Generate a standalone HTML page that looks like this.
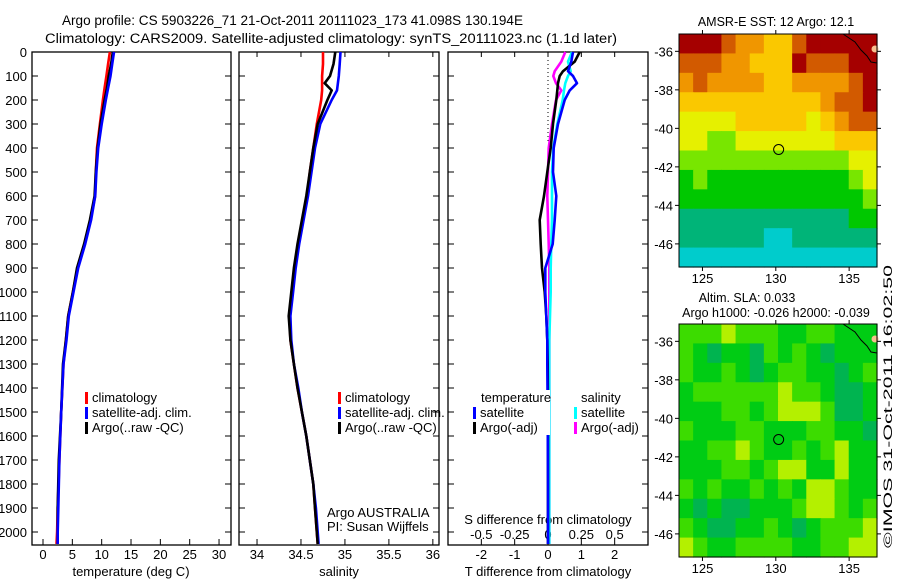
<!DOCTYPE html>
<html><head><meta charset="utf-8"><style>
html,body{margin:0;padding:0;background:#fff;}
svg{display:block;font-family:"Liberation Sans",Arial,sans-serif;}
</style></head><body>
<svg id="c" width="900" height="580" viewBox="0 0 900 580" xmlns="http://www.w3.org/2000/svg">
<text x="62" y="25" font-size="13.5" textLength="461" lengthAdjust="spacingAndGlyphs">Argo profile: CS 5903226_71 21-Oct-2011 20111023_173 41.098S 130.194E</text>
<text x="45" y="43" font-size="13.5" textLength="572" lengthAdjust="spacingAndGlyphs">Climatology: CARS2009. Satellite-adjusted climatology: synTS_20111023.nc (1.1d later)</text>
<g id="g"></g>
<text transform="translate(892,548) rotate(-90)" font-size="12" textLength="283" lengthAdjust="spacingAndGlyphs">©IMOS 31-Oct-2011 16:02:50</text>
</svg>
<script>
// ---- profile data (depth m) ----
const tDepth   = [0,50,100,150,200,300,400,500,600,700,800,900,1000,1100,1200,1300,1500,1700,1900,2000,2050];
const tClim    = [11.4,11.1,10.8,10.5,10.2,9.7,9.2,9.0,8.9,8.1,7.1,5.9,5.1,4.3,3.9,3.5,3.1,2.8,2.5,2.4,2.3];
const tSat     = [12.1,11.8,11.5,11.1,10.7,10.0,9.4,9.1,8.9,8.2,7.2,6.0,5.2,4.4,4.0,3.5,3.1,2.8,2.6,2.5,2.5];
const tArgo    = [11.9,11.6,11.2,10.9,10.5,9.8,9.3,9.0,8.8,8.0,7.0,5.8,5.1,4.3,3.9,3.4,3.1,2.7,2.5,2.5,2.5];
const sDepth   = [0,50,100,130,160,200,300,400,500,600,700,800,900,1000,1100,1200,1300,1400,1500,1600,1700,1800,1900,2000,2050];
const sClim    = [34.75,34.75,34.74,34.74,34.74,34.73,34.68,34.64,34.60,34.57,34.52,34.47,34.43,34.40,34.37,34.38,34.42,34.46,34.51,34.56,34.60,34.64,34.66,34.68,34.69];
const sSat     = [34.95,34.94,34.93,34.92,34.91,34.85,34.72,34.66,34.62,34.58,34.53,34.48,34.44,34.41,34.38,34.39,34.42,34.47,34.51,34.56,34.60,34.64,34.67,34.69,34.70];
const sArgo    = [34.89,34.87,34.83,34.77,34.85,34.80,34.69,34.64,34.60,34.56,34.51,34.46,34.42,34.39,34.36,34.38,34.42,34.46,34.51,34.56,34.60,34.64,34.66,34.68,34.69];
// ---- difference data ----
const dDepth   = [0,40,80,100,130,160,200,300,400,500,600,700,800,900,1000,1100,1200,1300,1500,1800,2050];
const dTsat    = [0.75,0.70,0.60,0.75,0.87,0.65,0.50,0.30,0.17,0.15,0.25,0.20,0.14,-0.08,-0.08,-0.05,-0.02,-0.02,-0.01,0,0];
const dTargo   = [0.95,0.80,0.45,0.35,0.30,0.28,0.25,0.15,0.08,-0.02,-0.12,-0.25,-0.22,-0.18,-0.10,-0.05,-0.02,-0.01,0,0,0];
const dSsat    = [0.18,0.15,0.17,0.15,0.13,0.12,0.11,0.07,0.04,0.03,0.03,0.03,0.025,0.02,0.02,0.015,0.01,0.01,0.01,0.01,0.01];
const dSargo   = [0.13,0.10,0.05,0.04,0.06,0.10,0.06,0.03,0.005,0,-0.005,0,0.005,0.01,0.01,0.01,0.01,0.01,0.01,0.01,0.01];
// ---- map data (rows lat -35..-47, cols lon 123.4..136.9) ----
const sstGrid = [
[9,9,9,8,7,7,6,6,8,9,9,9,9,9],
[8,8,8,7,7,6,6,6,9,8,8,8,9,9],
[7,8,7,7,7,7,6,6,7,7,7,7,8,9],
[6,6,6,6,6,6,6,6,6,6,7,8,8,9],
[5,5,5,5,6,6,6,6,6,5,6,7,8,8],
[5,5,4,4,5,5,5,5,5,5,5,6,6,6],
[4,4,4,4,4,4,4,4,4,4,4,4,5,5],
[3,4,3,3,3,3,3,3,3,3,3,3,4,5],
[3,3,3,3,3,3,3,3,3,3,3,3,3,4],
[2,2,2,2,2,2,2,2,2,2,2,2,3,3],
[2,2,2,2,2,2,1,1,2,2,2,2,2,2],
[1,1,1,1,1,1,1,1,1,1,1,1,1,1]];
const slaGrid = [
[3,3,3,4,3,3,3,2,2,3,3,2,2,2],
[3,2,1,2,2,1,3,2,3,2,1,2,2,2],
[3,2,2,3,2,1,2,3,3,2,2,1,2,3],
[2,3,3,3,3,3,3,4,3,3,2,1,1,2],
[2,2,2,3,3,2,3,4,4,4,3,1,1,2],
[3,2,2,2,3,3,2,2,2,3,3,2,2,1],
[2,2,3,3,4,3,2,2,3,2,3,4,2,2],
[2,2,2,3,3,2,3,4,4,2,2,4,2,2],
[3,2,3,2,2,3,2,3,2,4,4,3,2,2],
[2,1,2,1,1,2,2,2,3,4,4,3,2,3],
[3,2,1,1,2,2,3,2,1,2,3,3,3,4],
[4,3,2,2,3,3,3,3,2,2,3,3,4,4]];
const depthTicks = [0,100,200,300,400,500,600,700,800,900,1000,1100,1200,1300,1400,1500,1600,1700,1800,1900,2000];
const tTicks = [0,5,10,15,20,25,30];
const sTicks = [34,34.5,35,35.5,36];
const dTTicks = [-2,-1,0,1,2];
const dSTicks = [-0.5,-0.25,0,0.25,0.5];
const lonTicks = [125,130,135];
const latTicks = [-36,-38,-40,-42,-44,-46];
const argoLon = 130.194, argoLat = -41.098;

const NS='http://www.w3.org/2000/svg';
const G=document.getElementById('g');
function el(tag,attrs,parent,txt){const e=document.createElementNS(NS,tag);for(const k in attrs)e.setAttribute(k,attrs[k]);if(txt!==undefined)e.textContent=txt;(parent||G).appendChild(e);return e;}
const top0=52, bot=545;
const yD = d => top0 + d*(532-52)/2000;

function panel(name,x0,x1,xmin,xmax){
  const g=el('g',{});
  
  
  const fx=v=>x0+(v-xmin)/(xmax-xmin)*(x1-x0);
  return {g,fx,x0,x1};
}
function frame(p){
  const r=el('rect',{x:p.x0,y:top0,width:p.x1-p.x0,height:bot-top0,fill:'none',stroke:'#000','stroke-width':1.3},p.g);
  
  
  depthTicks.forEach(d=>{
    el('line',{x1:p.x0,x2:p.x0+6,y1:yD(d),y2:yD(d),stroke:'#000'},p.g);
    el('line',{x1:p.x1,x2:p.x1-6,y1:yD(d),y2:yD(d),stroke:'#000'},p.g);
  });
}
function xticks(p,ticks,fmt,ly,tops){
  ticks.forEach(v=>{
    const x=p.fx(v);
    el('line',{x1:x,x2:x,y1:bot,y2:bot-6,stroke:'#000'},p.g);
    if(tops) el('line',{x1:x,x2:x,y1:top0,y2:top0+5,stroke:'#000'},p.g);
    const t=el('text',{x:x,y:ly,'font-size':13,'text-anchor':'middle'},p.g,fmt(v));
    
    
  });
}
function line(p,depths,vals,color,name,fx){
  let d='';
  depths.forEach((z,i)=>{d+=(i?'L':'M')+(fx||p.fx)(vals[i]).toFixed(1)+','+yD(z).toFixed(1);});
  const e=el('path',{d:d,fill:'none',stroke:color,'stroke-width':2.6,'stroke-linejoin':'round'},p.g);
  
  
}
function legend(p,x,y,items){
  items.forEach((it,i)=>{
    el('rect',{x:x,y:y+i*15-10,width:3,height:12,fill:it[0]},p.g);
    const t=el('text',{x:x+7,y:y+i*15,'font-size':13},p.g,it[1]);
    
    
  });
}
// panel 1
const p1=panel('temperature-panel',32,231,-1.875,32.04);
frame(p1);
depthTicks.forEach(d=>{const t=el('text',{x:27,y:yD(d)+5,'font-size':13,'text-anchor':'end'},p1.g,String(d));
  
  });
xticks(p1,tTicks,String,559,false);
line(p1,tDepth,tClim,'#f00','temp-climatology-line');
line(p1,tDepth,tArgo,'#000','temp-argo-line');
line(p1,tDepth,tSat,'#00f','temp-satellite-line');
legend(p1,85,402,[['#f00','climatology'],['#00f','satellite-adj. clim.'],['#000','Argo(..raw -QC)']]);
el('text',{x:131,y:576,'font-size':13,'text-anchor':'middle'},p1.g,'temperature (deg C)');
// panel 2
const p2=panel('salinity-panel',239,439,33.795,36.07);
frame(p2);
xticks(p2,sTicks,String,559,true);
line(p2,sDepth,sClim,'#f00','sal-climatology-line');
line(p2,sDepth,sSat,'#00f','sal-satellite-line');
line(p2,sDepth,sArgo,'#000','sal-argo-line');
legend(p2,338,402,[['#f00','climatology'],['#00f','satellite-adj. clim.'],['#000','Argo(..raw -QC)']]);
el('text',{x:327,y:517,'font-size':13},p2.g,'Argo AUSTRALIA');
el('text',{x:327,y:531,'font-size':13},p2.g,'PI: Susan Wijffels');
el('text',{x:339,y:576,'font-size':13,'text-anchor':'middle'},p2.g,'salinity');
// panel 3
const p3=panel('difference-panel',448,648,-3,3);
const fS=v=>p3.fx(v*4);
frame(p3);
el('line',{x1:p3.fx(0),x2:p3.fx(0),y1:top0,y2:yD(380),stroke:'#000','stroke-dasharray':'1,3'},p3.g);
xticks(p3,dTTicks,String,559,true);
dSTicks.forEach(v=>{const t=el('text',{x:fS(v),y:539,'font-size':13,'text-anchor':'middle'},p3.g,String(v));
  
  });
el('text',{x:548,y:524,'font-size':13,'text-anchor':'middle'},p3.g,'S difference from climatology');
line(p3,dDepth,dSargo,'#f0f','sal-argo-diff-line',fS);
line(p3,dDepth,dSsat,'#0ff','sal-satellite-diff-line',fS);
line(p3,dDepth,dTargo,'#000','temp-argo-diff-line');
line(p3,dDepth,dTsat,'#00f','temp-satellite-diff-line');
el('rect',{x:470,y:390,width:80,height:45,fill:'#fff'},p3.g);
el('rect',{x:570,y:390,width:72,height:45,fill:'#fff'},p3.g);
el('text',{x:481,y:402,'font-size':13},p3.g,'temperature');
el('text',{x:581,y:402,'font-size':13},p3.g,'salinity');
legend(p3,473,417,[['#00f','satellite'],['#000','Argo(-adj)']]);
legend(p3,574,417,[['#0ff','satellite'],['#f0f','Argo(-adj)']]);
el('text',{x:548,y:576,'font-size':13,'text-anchor':'middle'},p3.g,'T difference from climatology');
// maps
const sstCols=['','#00cccc','#00b478','#00c800','#78e600','#e6f000','#fac800','#f09600','#d25a00','#a50000'];
const slaCols=['','#00b450','#00cc14','#3cdc00','#b4f000','#dcf000'];
function map(name,y0,y1,grid,cols,titles){
  const x0=679,x1=877,lonMin=123.4,lonMax=136.9,latMax=-35.1,latMin=-47.2;
  const g=el('g',{});
  
  
  const fx=v=>x0+(v-lonMin)/(lonMax-lonMin)*(x1-x0);
  const fy=v=>y0+(latMax-v)/(latMax-latMin)*(y1-y0);
  const nr=grid.length,nc=grid[0].length,cw=(x1-x0)/nc,ch=(y1-y0)/nr;
  grid.forEach((row,r)=>row.forEach((v,c)=>{
    const e=el('rect',{x:(x0+c*cw).toFixed(2),y:(y0+r*ch).toFixed(2),width:(cw+0.6).toFixed(2),height:(ch+0.6).toFixed(2),fill:cols[v]},g);
    
    
  }));
  el('path',{d:`M${x1-34},${y0} L${x1-22},${y0+8} L${x1-16},${y0+16} L${x1-10},${y0+22} L${x1-6},${y0+28} L${x1},${y0+29}`,fill:'none',stroke:'#000','stroke-width':1},g);
  el('circle',{cx:x1-2,cy:y0+15,r:3.5,fill:'#f8c090'},g);
  el('rect',{x:x0,y:y0,width:x1-x0,height:y1-y0,fill:'none',stroke:'#000','stroke-width':1},g);
  lonTicks.forEach(v=>{el('line',{x1:fx(v),x2:fx(v),y1:y1,y2:y1+4,stroke:'#000'},g);el('line',{x1:fx(v),x2:fx(v),y1:y0,y2:y0-4,stroke:'#000'},g);
    const t=el('text',{x:fx(v),y:y1+16,'font-size':13,'text-anchor':'middle'},g,String(v));
    
    });
  latTicks.forEach(v=>{el('line',{x1:x0,x2:x0-4,y1:fy(v),y2:fy(v),stroke:'#000'},g);el('line',{x1:x1,x2:x1+4,y1:fy(v),y2:fy(v),stroke:'#000'},g);
    const t=el('text',{x:673,y:fy(v)+5,'font-size':13,'text-anchor':'end'},g,String(v));
    
    });
  const c=el('circle',{cx:fx(argoLon),cy:fy(argoLat),r:5,fill:'none',stroke:'#000','stroke-width':1},g);
  
  
  titles.forEach(t=>{const e=el('text',{x:t[0],y:t[1],'font-size':12.5,'text-anchor':'middle'},g,t[2]);
    
    });
}
map('sst-map',34,267,sstGrid,sstCols,[[776,26,'AMSR-E SST: 12 Argo: 12.1']]);
map('sla-map',324,557,slaGrid,slaCols,[[747,302,'Altim. SLA: 0.033'],[776,317,'Argo h1000: -0.026 h2000: -0.039']]);
</script>
</body></html>
